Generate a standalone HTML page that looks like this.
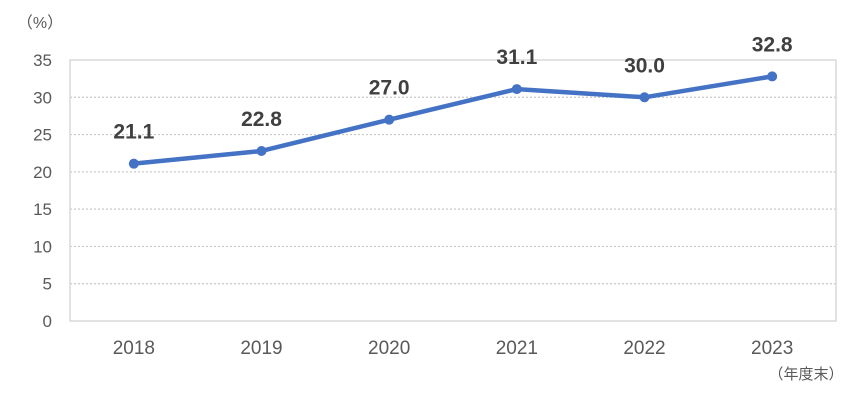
<!DOCTYPE html>
<html><head><meta charset="utf-8"><style>
body{margin:0;background:#fff;}
svg text{font-family:"Liberation Sans","Noto Sans CJK JP",sans-serif;}
</style></head><body>
<svg id="chart" width="863" height="406" xmlns="http://www.w3.org/2000/svg"></svg>
<script>
const categories=["2018","2019","2020","2021","2022","2023"];
const values=[21.1,22.8,27.0,31.1,30.0,32.8];
const valueLabels=["21.1","22.8","27.0","31.1","30.0","32.8"];
const yTicks=[0,5,10,15,20,25,30,35];
const NS="http://www.w3.org/2000/svg";
const svg=document.getElementById("chart");
const L=70,R=836,T=60,B=321,YMAX=35;
const y=v=>B-(v/YMAX)*(B-T);
const band=(R-L)/categories.length;
const x=i=>L+band*(i+0.5);
function mk(tag,attrs,txt){const e=document.createElementNS(NS,tag);for(const k in attrs)e.setAttribute(k,attrs[k]);if(txt!==undefined)e.textContent=txt;svg.appendChild(e);return e;}
yTicks.forEach(t=>{
  if(t>0&&t<YMAX){
    const g=mk("line",{x1:L,x2:R,y1:y(t),y2:y(t),stroke:"#c8c8c8","stroke-width":1.2,"stroke-dasharray":"2,2"});
    
    
  }
  const tl=mk("text",{x:52,y:y(t)+6,"text-anchor":"end","font-size":17,fill:"#595959"},t);
  
  
});
const frame=mk("rect",{x:L,y:T,width:R-L,height:B-T,fill:"none",stroke:"#d9d9d9","stroke-width":1.5});


const unit=mk("text",{x:40,y:28,"text-anchor":"middle","font-size":16,fill:"#595959"},"（%）");


categories.forEach((c,i)=>{
  const t=mk("text",{x:x(i),y:354,"text-anchor":"middle","font-size":19,fill:"#595959"},c);
  
  
});
const xu=mk("text",{x:806,y:379,"text-anchor":"middle","font-size":15,fill:"#595959"},"（年度末）");


const line=mk("polyline",{points:values.map((v,i)=>x(i)+","+y(v)).join(" "),fill:"none",stroke:"#4472c4","stroke-width":4.5,"stroke-linejoin":"round"});


values.forEach((v,i)=>{
  const p=mk("circle",{cx:x(i),cy:y(v),r:5,fill:"#4472c4"});
  
  
  const l=mk("text",{x:x(i),y:y(v)-25,"text-anchor":"middle","font-size":21,"font-weight":"bold",fill:"#404040"},valueLabels[i]);
  
  
});
</script>
</body></html>
